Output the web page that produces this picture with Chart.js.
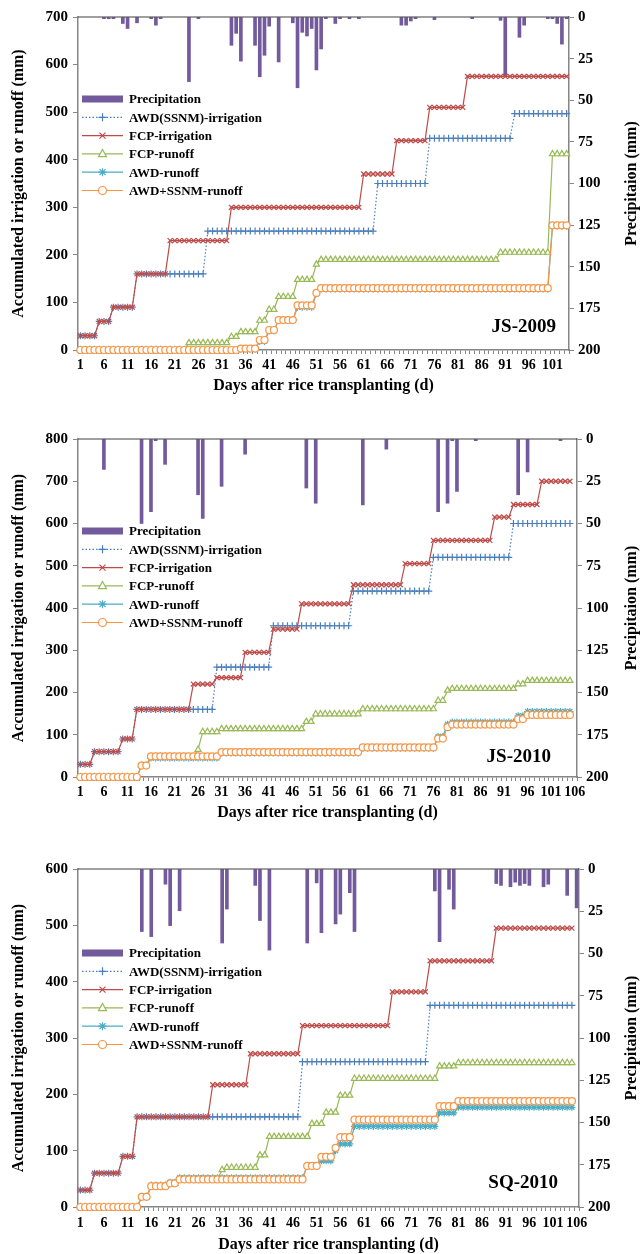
<!DOCTYPE html>
<html>
<head>
<meta charset="utf-8">
<script src="https://cdn.jsdelivr.net/npm/chart.js@4.4.1/dist/chart.umd.min.js"></script>
<style>
  body { margin: 0; background: #fff; width: 644px; height: 1254px; position: relative; overflow: hidden; }
  canvas { position: absolute; left: 0; }
</style>
</head>
<body>
<canvas id="c1" width="644" height="404" style="top:0px"></canvas>
<canvas id="c2" width="644" height="404" style="top:420px"></canvas>
<canvas id="c3" width="644" height="404" style="top:850px"></canvas>
<script>
// ---------- JS-2009 (days 1..104) ----------
var js09Days = 104;
var js09AwdIrr = [
  30, 30, 30, 30,
  60, 60, 60,
  90, 90, 90, 90, 90,
  160, 160, 160, 160, 160, 160, 160, 160, 160, 160,
  160, 160, 160, 160, 160,
  250, 250, 250, 250, 250, 250, 250, 250, 250, 250,
  250, 250, 250, 250, 250, 250, 250, 250, 250, 250,
  250, 250, 250, 250, 250, 250, 250, 250, 250, 250,
  250, 250, 250, 250, 250, 250,
  350, 350, 350, 350, 350, 350, 350, 350, 350, 350,
  350,
  445, 445, 445, 445, 445, 445, 445, 445, 445, 445,
  445, 445, 445, 445, 445, 445, 445, 445,
  497, 497, 497, 497, 497, 497, 497, 497, 497, 497,
  497, 497
];
var js09FcpIrr = [
  30, 30, 30, 30,
  60, 60, 60,
  90, 90, 90, 90, 90,
  160, 160, 160, 160, 160, 160, 160,
  230, 230, 230, 230, 230, 230, 230, 230, 230, 230,
  230, 230, 230,
  300, 300, 300, 300, 300, 300, 300, 300, 300, 300,
  300, 300, 300, 300, 300, 300, 300, 300, 300, 300,
  300, 300, 300, 300, 300, 300, 300, 300,
  370, 370, 370, 370, 370, 370, 370,
  440, 440, 440, 440, 440, 440, 440,
  510, 510, 510, 510, 510, 510, 510, 510,
  575, 575, 575, 575, 575, 575, 575, 575, 575, 575,
  575, 575, 575, 575, 575, 575, 575, 575, 575, 575,
  575, 575
];
var js09FcpRun = [
  0, 0, 0, 0, 0, 0, 0, 0, 0, 0,
  0, 0, 0, 0, 0, 0, 0, 0, 0, 0,
  0, 0, 0,
  15, 15, 15, 15, 15, 15, 15, 15, 15,
  28, 28,
  38, 38, 38, 38,
  62, 62,
  85, 85,
  112, 112, 112, 112,
  148, 148, 148, 148,
  180,
  190, 190, 190, 190, 190, 190, 190, 190, 190, 190,
  190, 190, 190, 190, 190, 190, 190, 190, 190, 190,
  190, 190, 190, 190, 190, 190, 190, 190, 190, 190,
  190, 190, 190, 190, 190, 190, 190, 190,
  205, 205, 205, 205, 205, 205, 205, 205, 205, 205,
  205,
  412, 412, 412, 412
];
var js09AwdRun = [
  0, 0, 0, 0, 0, 0, 0, 0, 0, 0,
  0, 0, 0, 0, 0, 0, 0, 0, 0, 0,
  0, 0, 0, 0, 0, 0, 0, 0, 0, 0,
  0, 0, 0, 0,
  2, 2, 2, 2,
  18, 18,
  40, 40,
  63, 63, 63, 63,
  90, 90, 90, 90,
  118,
  128, 128, 128, 128, 128, 128, 128, 128, 128, 128,
  128, 128, 128, 128, 128, 128, 128, 128, 128, 128,
  128, 128, 128, 128, 128, 128, 128, 128, 128, 128,
  128, 128, 128, 128, 128, 128, 128, 128, 128, 128,
  128, 128, 128, 128, 128, 128, 128, 128, 128,
  260, 260, 260, 260
];
var js09SsnmRun = [
  0, 0, 0, 0, 0, 0, 0, 0, 0, 0,
  0, 0, 0, 0, 0, 0, 0, 0, 0, 0,
  0, 0, 0, 0, 0, 0, 0, 0, 0, 0,
  0, 0, 0, 0,
  3, 3, 3, 3,
  21, 21,
  42, 42,
  63, 63, 63, 63,
  94, 94, 94, 94,
  120,
  130, 130, 130, 130, 130, 130, 130, 130, 130, 130,
  130, 130, 130, 130, 130, 130, 130, 130, 130, 130,
  130, 130, 130, 130, 130, 130, 130, 130, 130, 130,
  130, 130, 130, 130, 130, 130, 130, 130, 130, 130,
  130, 130, 130, 130, 130, 130, 130, 130, 130,
  262, 262, 262, 262
];
var js09RainDay = [6, 7, 8, 10, 11, 13, 16, 17, 18, 24, 26, 33, 34, 35, 38, 39, 40, 41, 43, 46,
  47, 48, 49, 50, 51, 52, 53, 55, 56, 58, 60, 69, 70, 71, 72, 76, 84, 90, 91, 94,
  95, 100, 101, 102, 103, 104];
var js09RainMm = [1, 1, 1, 3.9, 6.9, 3.5, 1, 4.9, 1, 38.8, 1, 17, 9.8, 26.5, 17, 35.9, 23, 5.5, 27, 3.5,
  42.5, 9.2, 11.4, 6.9, 31.8, 19.2, 1, 3.9, 1, 1, 1, 4.9, 4.9, 2.4, 1, 1.6, 1, 2, 35.3, 12.2,
  4.9, 1, 1, 3.9, 16.3, 1];

// ---------- JS-2010 (days 1..106) ----------
var js10Days = 106;
var js10AwdIrr = [
  30, 30, 30,
  60, 60, 60, 60, 60, 60,
  90, 90, 90,
  160, 160, 160, 160, 160, 160, 160, 160, 160, 160,
  160, 160, 160, 160, 160, 160, 160,
  260, 260, 260, 260, 260, 260, 260, 260, 260, 260,
  260, 260,
  358, 358, 358, 358, 358, 358, 358, 358, 358, 358,
  358, 358, 358, 358, 358, 358, 358,
  440, 440, 440, 440, 440, 440, 440, 440, 440, 440,
  440, 440, 440, 440, 440, 440, 440,
  520, 520, 520, 520, 520, 520, 520, 520, 520, 520,
  520, 520, 520, 520, 520, 520, 520,
  600, 600, 600, 600, 600, 600, 600, 600, 600, 600,
  600, 600, 600,
  null
];
var js10FcpIrr = [
  30, 30, 30,
  60, 60, 60, 60, 60, 60,
  90, 90, 90,
  160, 160, 160, 160, 160, 160, 160, 160, 160, 160,
  160, 160,
  220, 220, 220, 220, 220,
  235, 235, 235, 235, 235, 235,
  295, 295, 295, 295, 295, 295,
  350, 350, 350, 350, 350, 350,
  410, 410, 410, 410, 410, 410, 410, 410, 410, 410,
  410,
  455, 455, 455, 455, 455, 455, 455, 455, 455, 455,
  455,
  505, 505, 505, 505, 505, 505,
  560, 560, 560, 560, 560, 560, 560, 560, 560, 560,
  560, 560, 560,
  615, 615, 615, 615,
  645, 645, 645, 645, 645, 645,
  700, 700, 700, 700, 700, 700, 700,
  null
];
var js10FcpRun = [
  0, 0, 0, 0, 0, 0, 0, 0, 0, 0,
  0, 0, 0,
  27, 27,
  48, 48, 48, 48, 48, 48, 48, 48, 48, 48,
  65,
  107, 107, 107, 107,
  114, 114, 114, 114, 114, 114, 114, 114, 114, 114,
  114, 114, 114, 114, 114, 114, 114, 114,
  131, 131,
  149, 149, 149, 149, 149, 149, 149, 149, 149, 149,
  161, 161, 161, 161, 161, 161, 161, 161, 161, 161,
  161, 161, 161, 161, 161, 161,
  181, 181,
  205,
  209, 209, 209, 209, 209, 209, 209, 209, 209, 209,
  209, 209, 209, 209,
  220, 220,
  228, 228, 228, 228, 228, 228, 228, 228, 228, 228,
  null
];
var js10AwdRun = [
  0, 0, 0, 0, 0, 0, 0, 0, 0, 0,
  0, 0, 0,
  27, 27,
  45, 45, 45, 45, 45, 45, 45, 45, 45, 45,
  45, 45, 45, 45, 45,
  57, 57, 57, 57, 57, 57, 57, 57, 57, 57,
  57, 57, 57, 57, 57, 57, 57, 57, 57, 57,
  57, 57, 57, 57, 57, 57, 57, 57, 57, 57,
  68, 68, 68, 68, 68, 68, 68, 68, 68, 68,
  68, 68, 68, 68, 68, 68,
  96, 96,
  125,
  130, 130, 130, 130, 130, 130, 130, 130, 130, 130,
  130, 130, 130, 130,
  145, 145,
  155, 155, 155, 155, 155, 155, 155, 155, 155, 155,
  null
];
var js10SsnmRun = [
  0, 0, 0, 0, 0, 0, 0, 0, 0, 0,
  0, 0, 0,
  27, 27,
  49, 49, 49, 49, 49, 49, 49, 49, 49, 49,
  49, 49, 49, 49, 49,
  59, 59, 59, 59, 59, 59, 59, 59, 59, 59,
  59, 59, 59, 59, 59, 59, 59, 59, 59, 59,
  59, 59, 59, 59, 59, 59, 59, 59, 59, 59,
  70, 70, 70, 70, 70, 70, 70, 70, 70, 70,
  70, 70, 70, 70, 70, 70,
  91, 91,
  118,
  124, 124, 124, 124, 124, 124, 124, 124, 124, 124,
  124, 124, 124, 124,
  137, 137,
  147, 147, 147, 147, 147, 147, 147, 147, 147, 147,
  null
];
var js10RainDay = [6, 14, 16, 17, 19, 26, 27, 31, 36, 49, 51, 61, 66, 77, 79, 80, 81, 85, 94, 96, 103];
var js10RainMm = [18, 50, 43, 1, 15, 33, 47, 28, 9, 29, 38, 39, 6, 43, 38, 1, 31, 1, 33, 19.5, 1];

// ---------- SQ-2010 (days 1..106) ----------
var sq10Days = 106;
var sq10AwdIrr = [
  30, 30, 30,
  60, 60, 60, 60, 60, 60,
  90, 90, 90,
  160, 160, 160, 160, 160, 160, 160, 160, 160, 160,
  160, 160, 160, 160, 160, 160, 160, 160, 160, 160,
  160, 160, 160, 160, 160, 160, 160, 160, 160, 160,
  160, 160, 160, 160, 160,
  258, 258, 258, 258, 258, 258, 258, 258, 258, 258,
  258, 258, 258, 258, 258, 258, 258, 258, 258, 258,
  258, 258, 258, 258, 258, 258, 258,
  358, 358, 358, 358, 358, 358, 358, 358, 358, 358,
  358, 358, 358, 358, 358, 358, 358, 358, 358, 358,
  358, 358, 358, 358, 358, 358, 358, 358, 358, 358,
  358,
  null
];
var sq10FcpIrr = [
  30, 30, 30,
  60, 60, 60, 60, 60, 60,
  90, 90, 90,
  160, 160, 160, 160, 160, 160, 160, 160, 160, 160,
  160, 160, 160, 160, 160, 160,
  217, 217, 217, 217, 217, 217, 217, 217,
  272, 272, 272, 272, 272, 272, 272, 272, 272, 272,
  272,
  322, 322, 322, 322, 322, 322, 322, 322, 322, 322,
  322, 322, 322, 322, 322, 322, 322, 322, 322,
  382, 382, 382, 382, 382, 382, 382, 382,
  437, 437, 437, 437, 437, 437, 437, 437, 437, 437,
  437, 437, 437, 437,
  495, 495, 495, 495, 495, 495, 495, 495, 495, 495,
  495, 495, 495, 495, 495, 495, 495,
  null
];
var sq10FcpRun = [
  0, 0, 0, 0, 0, 0, 0, 0, 0, 0,
  0, 0, 0,
  18, 18,
  38, 38, 38, 38,
  42, 42,
  49, 49, 49, 49, 49, 49, 49, 49, 49,
  66,
  70, 70, 70, 70, 70, 70, 70,
  92, 92,
  125, 125, 125, 125, 125, 125, 125, 125, 125,
  148, 148, 148,
  168, 168, 168,
  198, 198, 198,
  228, 228, 228, 228, 228, 228, 228, 228, 228, 228,
  228, 228, 228, 228, 228, 228, 228, 228,
  250, 250, 250, 250,
  256, 256, 256, 256, 256, 256, 256, 256, 256, 256,
  256, 256, 256, 256, 256, 256, 256, 256, 256, 256,
  256, 256, 256, 256, 256,
  null
];
var sq10AwdRun = [
  0, 0, 0, 0, 0, 0, 0, 0, 0, 0,
  0, 0, 0,
  18, 18,
  37, 37, 37, 37,
  44, 44,
  52, 52, 52, 52, 52, 52, 52, 52, 52, 52,
  52, 52, 52, 52, 52, 52, 52, 52, 52, 52,
  52, 52, 52, 52, 52, 52, 52,
  73, 73, 73,
  82, 82, 82,
  100,
  112, 112, 112,
  143, 143, 143, 143, 143, 143, 143, 143, 143, 143,
  143, 143, 143, 143, 143, 143, 143, 143,
  167, 167, 167, 167,
  177, 177, 177, 177, 177, 177, 177, 177, 177, 177,
  177, 177, 177, 177, 177, 177, 177, 177, 177, 177,
  177, 177, 177, 177, 177,
  null
];
var sq10SsnmRun = [
  0, 0, 0, 0, 0, 0, 0, 0, 0, 0,
  0, 0, 0,
  18, 18,
  37, 37, 37, 37,
  42, 42,
  49, 49, 49, 49, 49, 49, 49, 49, 49, 49,
  49, 49, 49, 49, 49, 49, 49, 49, 49, 49,
  49, 49, 49, 49, 49, 49, 49,
  73, 73, 73,
  89, 89, 89,
  105,
  124, 124, 124,
  155, 155, 155, 155, 155, 155, 155, 155, 155, 155,
  155, 155, 155, 155, 155, 155, 155, 155,
  179, 179, 179, 179,
  188, 188, 188, 188, 188, 188, 188, 188, 188, 188,
  188, 188, 188, 188, 188, 188, 188, 188, 188, 188,
  188, 188, 188, 188, 188,
  null
];
var sq10RainDay = [14, 16, 19, 20, 22, 31, 32, 38, 39, 41, 49, 51, 52, 55, 56, 58, 59, 76, 77, 79,
  80, 89, 90, 92, 93, 94, 95, 96, 99, 100, 104, 106];
var sq10RainMm = [37, 40, 9, 33.5, 24.7, 43.8, 23.7, 9.7, 30.5, 48, 43.8, 8.2, 37.7, 32.5, 26.7, 14, 37, 13, 43, 12,
  23.7, 8.6, 9.7, 10.5, 7.8, 9.7, 8.6, 9.7, 10.5, 9, 15.6, 23];

// ---------- styling ----------
var FONT = '"Liberation Serif", "Times New Roman", serif';
var AXIS = '#868686';
var PURPLE = '#725A9C';
var BLUE = '#4A7EBB';
var RED = '#BE4B48';
var GREEN = '#98B954';
var CYAN = '#4BACC6';
var ORANGE = '#F79646';

function drawMark(ctx, style, x, y, r, color) {
  ctx.save();
  ctx.setLineDash([]);
  ctx.strokeStyle = color;
  ctx.lineWidth = 1.2;
  ctx.fillStyle = '#fff';
  ctx.beginPath();
  if (style === 'cross' || style === 'star') {
    ctx.moveTo(x - r, y); ctx.lineTo(x + r, y);
    ctx.moveTo(x, y - r); ctx.lineTo(x, y + r);
  }
  if (style === 'crossRot' || style === 'star') {
    var k = r * 0.75;
    ctx.moveTo(x - k, y - k); ctx.lineTo(x + k, y + k);
    ctx.moveTo(x - k, y + k); ctx.lineTo(x + k, y - k);
  }
  if (style === 'triangle') {
    ctx.moveTo(x, y - r * 1.1); ctx.lineTo(x + r, y + r * 0.7); ctx.lineTo(x - r, y + r * 0.7);
    ctx.closePath(); ctx.fill();
  }
  if (style === 'circle') {
    ctx.arc(x, y, r, 0, Math.PI * 2); ctx.fill();
  }
  ctx.stroke();
  ctx.restore();
}

var panelDeco = {
  id: 'panelDeco',
  afterDatasetsDraw: function(chart, args, opts) {
    var ctx = chart.ctx, area = chart.chartArea;
    ctx.save();
    // top border of the plot area
    ctx.strokeStyle = '#404040';
    ctx.lineWidth = 1.2;
    ctx.beginPath();
    ctx.moveTo(area.left, area.top);
    ctx.lineTo(area.right, area.top);
    ctx.stroke();

    // legend inside the plot
    var ds = chart.data.datasets;
    ctx.font = 'bold 13px ' + FONT;
    ctx.textBaseline = 'middle';
    ctx.textAlign = 'left';
    for (var i = 0; i < ds.length; i++) {
      var y = opts.legendY + i * 18.3;
      if (ds[i].type === 'bar') {
        ctx.fillStyle = PURPLE;
        ctx.fillRect(82, y - 3.5, 41, 7);
      } else {
        ctx.strokeStyle = ds[i].borderColor;
        ctx.lineWidth = 1.2;
        ctx.setLineDash(ds[i].borderDash || []);
        ctx.beginPath();
        ctx.moveTo(82, y);
        ctx.lineTo(123, y);
        ctx.stroke();
        ctx.setLineDash([]);
        drawMark(ctx, ds[i].pointStyle, 102.5, y, 4, ds[i].borderColor);
      }
      ctx.fillStyle = '#000';
      ctx.fillText(ds[i].label, 129, y + 1);
    }

    // site-year tag
    ctx.font = 'bold 19px ' + FONT;
    ctx.textAlign = 'right';
    ctx.fillStyle = '#000';
    ctx.fillText(opts.tag, opts.tagX, opts.tagY);

    // right axis title, reading bottom to top
    ctx.translate(632, (area.top + area.bottom) / 2);
    ctx.rotate(-Math.PI / 2);
    ctx.textAlign = 'center';
    ctx.font = 'bold 16px ' + FONT;
    ctx.fillText('Precipitaion (mm)', 0, 0);
    ctx.restore();
  }
};

function lineSet(label, data, color, mark, order, dash) {
  return {
    type: 'line', label: label, data: data, yAxisID: 'y', order: order,
    borderColor: color, backgroundColor: color, borderWidth: 1.2, borderDash: dash || [],
    pointStyle: mark, pointRadius: 3.5, pointBorderWidth: 1.2,
    pointBorderColor: color, pointBackgroundColor: '#fff',
    fill: false, tension: 0, clip: false, spanGaps: false
  };
}

function buildPanel(canvasId, p) {
  var labels = [];
  for (var d = 1; d <= p.nDays; d++) labels.push(String(d));
  var rain = p.rainDay.map(function(day, i) { return { x: String(day), y: p.rainMm[i] }; });
  var tickFont = { family: FONT, size: 15, weight: 'bold' };
  var titleFont = { family: FONT, size: 16, weight: 'bold' };

  new Chart(document.getElementById(canvasId), {
    type: 'bar',
    data: {
      labels: labels,
      datasets: [
        { type: 'bar', label: 'Precipitation', data: rain, yAxisID: 'y2', order: 10,
          backgroundColor: PURPLE, barThickness: 3 },
        lineSet('AWD(SSNM)-irrigation', p.awdIrr, BLUE, 'cross', 5, [1.5, 2]),
        lineSet('FCP-irrigation', p.fcpIrr, RED, 'crossRot', 4),
        lineSet('FCP-runoff', p.fcpRun, GREEN, 'triangle', 3),
        lineSet('AWD-runoff', p.awdRun, CYAN, 'star', 2),
        lineSet('AWD+SSNM-runoff', p.ssnmRun, ORANGE, 'circle', 1)
      ]
    },
    options: {
      responsive: false,
      animation: false,
      events: [],
      layout: { padding: { top: p.padTop, left: 0, right: 0, bottom: 0 } },
      plugins: {
        legend: { display: false },
        tooltip: { enabled: false },
        panelDeco: { legendY: p.legendY, tag: p.tag, tagX: p.tagX, tagY: p.tagY }
      },
      scales: {
        x: {
          type: 'category',
          offset: true,
          grid: { display: true, drawOnChartArea: false, drawTicks: true, tickLength: 4, color: AXIS, offset: true },
          border: { display: true, color: AXIS, width: 1.5 },
          ticks: {
            autoSkip: false, maxRotation: 0, minRotation: 0, padding: p.xTickPad, color: '#000',
            font: { family: FONT, size: 14, weight: 'bold' },
            callback: function(val, i) { return i % 5 === 0 ? this.getLabelForValue(val) : ''; }
          },
          title: { display: true, text: 'Days after rice transplanting (d)', color: '#000', font: titleFont,
            padding: { top: 0, bottom: p.xTitlePad } },
          afterFit: function(s) { s.height = p.xHeight; }
        },
        y: {
          position: 'left', min: 0, max: p.yMax,
          ticks: { stepSize: 100, padding: 5, color: '#000', font: tickFont },
          grid: { drawOnChartArea: false, tickLength: 5, color: AXIS },
          border: { color: AXIS, width: 1.5 },
          title: { display: true, text: 'Accumulated irrigation or runoff (mm)', color: '#000', font: titleFont,
            padding: { top: 9, bottom: 0 } },
          afterFit: function(s) { s.width = 78; }
        },
        y2: {
          position: 'right', reverse: true, min: 0, max: 200,
          ticks: { stepSize: 25, padding: 4, color: '#000', font: tickFont },
          grid: { drawOnChartArea: false, tickLength: 5, color: AXIS },
          border: { color: AXIS, width: 1.5 },
          afterFit: function(s) { s.width = p.rightWidth; }
        }
      }
    },
    plugins: [panelDeco]
  });
}

buildPanel('c1', {
  nDays: js09Days, yMax: 700,
  awdIrr: js09AwdIrr, fcpIrr: js09FcpIrr, fcpRun: js09FcpRun, awdRun: js09AwdRun, ssnmRun: js09SsnmRun,
  rainDay: js09RainDay, rainMm: js09RainMm,
  padTop: 17, xHeight: 54, rightWidth: 75, xTickPad: 3, xTitlePad: 9,
  legendY: 99, tag: 'JS-2009', tagX: 556, tagY: 327
});
buildPanel('c2', {
  nDays: js10Days, yMax: 800,
  awdIrr: js10AwdIrr, fcpIrr: js10FcpIrr, fcpRun: js10FcpRun, awdRun: js10AwdRun, ssnmRun: js10SsnmRun,
  rainDay: js10RainDay, rainMm: js10RainMm,
  padTop: 19, xHeight: 47, rightWidth: 67, xTickPad: 3, xTitlePad: 2,
  legendY: 111, tag: 'JS-2010', tagX: 551, tagY: 337
});
buildPanel('c3', {
  nDays: sq10Days, yMax: 600,
  awdIrr: sq10AwdIrr, fcpIrr: sq10FcpIrr, fcpRun: sq10FcpRun, awdRun: sq10AwdRun, ssnmRun: sq10SsnmRun,
  rainDay: sq10RainDay, rainMm: sq10RainMm,
  padTop: 19, xHeight: 47, rightWidth: 65, xTickPad: 4, xTitlePad: 0,
  legendY: 103, tag: 'SQ-2010', tagX: 558, tagY: 333
});
</script>
</body>
</html>
